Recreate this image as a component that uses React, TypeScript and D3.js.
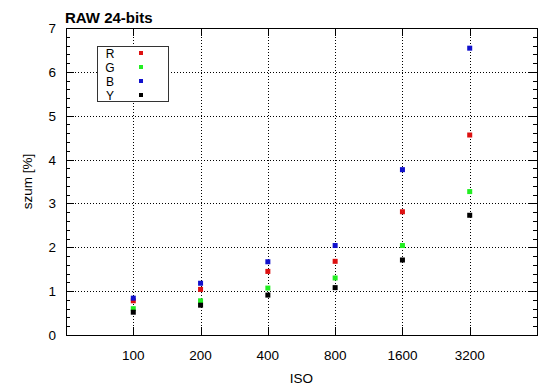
import React, { useRef, useEffect } from "react";
import * as d3 from "d3";

const isoValues = [100, 200, 400, 800, 1600, 3200];
const seriesNames = ["R", "G", "B", "Y"];
const seriesColors = ["#dd1111", "#22ee22", "#1111cc", "#000000"];
const rValues = [0.78, 1.04, 1.45, 1.68, 2.81, 4.56];
const gValues = [0.6, 0.78, 1.07, 1.3, 2.04, 3.27];
const bValues = [0.84, 1.18, 1.67, 2.04, 3.77, 6.54];
const yValues = [0.52, 0.68, 0.91, 1.08, 1.71, 2.73];
const yTicks = [0, 1, 2, 3, 4, 5, 6, 7];

const App = () => {
  const ref = useRef<SVGSVGElement>(null);

  useEffect(() => {
    const svg = d3.select(ref.current);
    svg.selectAll("*").remove();

    const left = 66, right = 537, top = 28, bottom = 335;
    const font = "'Liberation Sans', Arial, sans-serif";

    const x = d3.scaleLog().base(2).domain([50, 6400]).range([left, right]);
    const y = d3.scaleLinear().domain([0, 7]).range([bottom, top]);

    svg.append("rect").attr("width", 550).attr("height", 389).attr("fill", "#fff");

    const grid = svg.append("g").attr("stroke", "#000").attr("stroke-width", 1)
      .attr("stroke-dasharray", "1,2");
    isoValues.forEach(v => {
      const px = Math.round(x(v)) + 0.5;
      grid.append("line").attr("x1", px).attr("x2", px).attr("y1", top).attr("y2", bottom);
    });
    yTicks.slice(1, -1).forEach(v => {
      const py = Math.round(y(v)) + 0.5;
      grid.append("line").attr("x1", left).attr("x2", right).attr("y1", py).attr("y2", py);
    });

    // ticks
    const ticks = svg.append("g").attr("stroke", "#000").attr("stroke-width", 1);
    isoValues.forEach(v => {
      const px = Math.round(x(v)) + 0.5;
      ticks.append("line").attr("x1", px).attr("x2", px).attr("y1", bottom).attr("y2", bottom - 8);
      ticks.append("line").attr("x1", px).attr("x2", px).attr("y1", top).attr("y2", top + 8);
    });
    d3.range(0, 7.01, 0.2).forEach(v => {
      const py = Math.round(y(v)) + 0.5;
      const major = Math.abs(v - Math.round(v)) < 1e-6;
      const len = major ? 8 : 4;
      ticks.append("line").attr("x1", left).attr("x2", left + len).attr("y1", py).attr("y2", py);
      ticks.append("line").attr("x1", right).attr("x2", right - len).attr("y1", py).attr("y2", py);
    });

    svg.append("rect")
      .attr("x", left + 0.5).attr("y", top + 0.5)
      .attr("width", right - left).attr("height", bottom - top)
      .attr("fill", "none").attr("stroke", "#000");

    // tick labels
    svg.append("g").selectAll("text").data(isoValues).join("text")
      .attr("x", d => x(d)).attr("y", 360)
      .attr("text-anchor", "middle").attr("font-family", font).attr("font-size", 13.5)
      .text(d => d);
    svg.append("g").selectAll("text").data(yTicks).join("text")
      .attr("x", 56).attr("y", d => y(d) + 5)
      .attr("text-anchor", "end").attr("font-family", font).attr("font-size", 13.5)
      .text(d => d);

    svg.append("text").attr("x", (left + right) / 2).attr("y", 383)
      .attr("text-anchor", "middle").attr("font-family", font).attr("font-size", 13.5)
      .text("ISO");
    svg.append("text")
      .attr("transform", `translate(32, ${(top + bottom) / 2}) rotate(-90)`)
      .attr("text-anchor", "middle").attr("font-family", font).attr("font-size", 13.5)
      .text("szum [%]");
    svg.append("text").attr("x", 65).attr("y", 23)
      .attr("font-family", font).attr("font-size", 15).attr("font-weight", "bold")
      .text("RAW 24-bits");

    // points
    const allSeries = [rValues, gValues, bValues, yValues];
    allSeries.forEach((vals, i) => {
      svg.append("g").selectAll("rect").data(vals).join("rect")
        .attr("x", (_, j) => x(isoValues[j]) - 2.5)
        .attr("y", d => y(d) - 2.5)
        .attr("width", 5).attr("height", 5)
        .attr("fill", seriesColors[i]);
    });

    // legend
    const lg = svg.append("g");
    lg.append("rect").attr("x", 97.5).attr("y", 46.5).attr("width", 71).attr("height", 55)
      .attr("fill", "#fff").attr("stroke", "#333");
    seriesNames.forEach((name, i) => {
      const cy = 53 + i * 14;
      lg.append("text").attr("x", 110).attr("y", cy + 4.5)
        .attr("text-anchor", "middle").attr("font-family", font).attr("font-size", 12)
        .text(name);
      lg.append("rect").attr("x", 139).attr("y", cy - 2).attr("width", 4).attr("height", 4)
        .attr("fill", seriesColors[i]);
    });
  }, []);

  return (
    <svg ref={ref} width={550} height={389}
      style={{ position: "absolute", left: 0, top: 0 }} />
  );
};

export default App;
